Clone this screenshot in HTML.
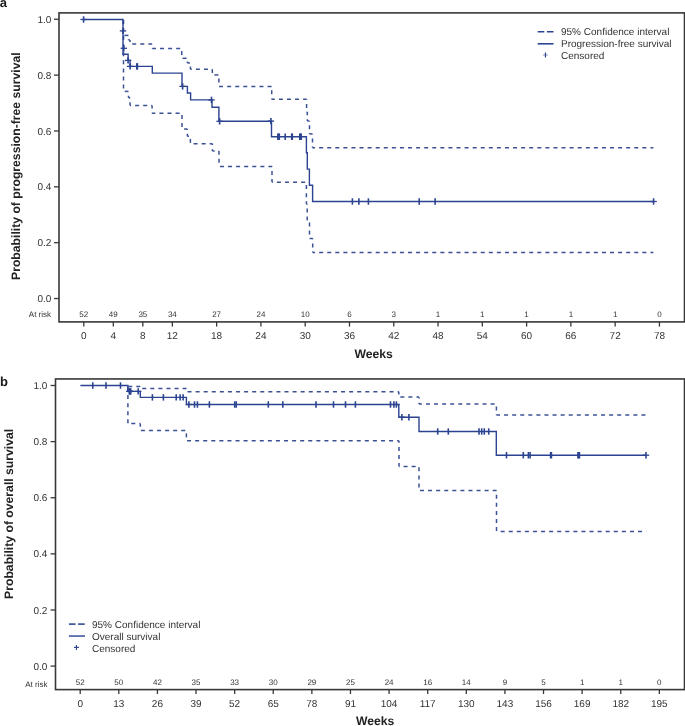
<!DOCTYPE html>
<html><head><meta charset="utf-8"><style>
html,body{margin:0;padding:0;background:#fff;}
svg{display:block;font-family:"Liberation Sans", sans-serif;text-rendering:geometricPrecision;will-change:transform;}
</style></head><body>
<svg width="685" height="726" viewBox="0 0 685 726">
<rect width="685" height="726" fill="#fff"/>
<text x="-0.2" y="7" font-size="13" font-weight="bold" fill="#1a1a1a">a</text>
<rect x="59.0" y="12.9" width="625.5" height="309.0" fill="none" stroke="#383838" stroke-width="1.6"/>
<line x1="54" y1="298.55" x2="59.0" y2="298.55" stroke="#383838" stroke-width="1.3"/>
<text x="51.3" y="302.15" font-size="10" text-anchor="end" fill="#333333">0.0</text>
<line x1="54" y1="242.69" x2="59.0" y2="242.69" stroke="#383838" stroke-width="1.3"/>
<text x="51.3" y="246.29" font-size="10" text-anchor="end" fill="#333333">0.2</text>
<line x1="54" y1="186.83" x2="59.0" y2="186.83" stroke="#383838" stroke-width="1.3"/>
<text x="51.3" y="190.43" font-size="10" text-anchor="end" fill="#333333">0.4</text>
<line x1="54" y1="130.97" x2="59.0" y2="130.97" stroke="#383838" stroke-width="1.3"/>
<text x="51.3" y="134.57" font-size="10" text-anchor="end" fill="#333333">0.6</text>
<line x1="54" y1="75.11" x2="59.0" y2="75.11" stroke="#383838" stroke-width="1.3"/>
<text x="51.3" y="78.71" font-size="10" text-anchor="end" fill="#333333">0.8</text>
<line x1="54" y1="19.25" x2="59.0" y2="19.25" stroke="#383838" stroke-width="1.3"/>
<text x="51.3" y="22.85" font-size="10" text-anchor="end" fill="#333333">1.0</text>
<line x1="83.80" y1="321.9" x2="83.80" y2="326.6" stroke="#383838" stroke-width="1.3"/>
<text x="83.80" y="339" font-size="10" text-anchor="middle" fill="#333333">0</text>
<text x="83.80" y="316.9" font-size="8" text-anchor="middle" fill="#333333">52</text>
<line x1="113.32" y1="321.9" x2="113.32" y2="326.6" stroke="#383838" stroke-width="1.3"/>
<text x="113.32" y="339" font-size="10" text-anchor="middle" fill="#333333">4</text>
<text x="113.32" y="316.9" font-size="8" text-anchor="middle" fill="#333333">49</text>
<line x1="142.84" y1="321.9" x2="142.84" y2="326.6" stroke="#383838" stroke-width="1.3"/>
<text x="142.84" y="339" font-size="10" text-anchor="middle" fill="#333333">8</text>
<text x="142.84" y="316.9" font-size="8" text-anchor="middle" fill="#333333">35</text>
<line x1="172.36" y1="321.9" x2="172.36" y2="326.6" stroke="#383838" stroke-width="1.3"/>
<text x="172.36" y="339" font-size="10" text-anchor="middle" fill="#333333">12</text>
<text x="172.36" y="316.9" font-size="8" text-anchor="middle" fill="#333333">34</text>
<line x1="216.64" y1="321.9" x2="216.64" y2="326.6" stroke="#383838" stroke-width="1.3"/>
<text x="216.64" y="339" font-size="10" text-anchor="middle" fill="#333333">18</text>
<text x="216.64" y="316.9" font-size="8" text-anchor="middle" fill="#333333">27</text>
<line x1="260.92" y1="321.9" x2="260.92" y2="326.6" stroke="#383838" stroke-width="1.3"/>
<text x="260.92" y="339" font-size="10" text-anchor="middle" fill="#333333">24</text>
<text x="260.92" y="316.9" font-size="8" text-anchor="middle" fill="#333333">24</text>
<line x1="305.20" y1="321.9" x2="305.20" y2="326.6" stroke="#383838" stroke-width="1.3"/>
<text x="305.20" y="339" font-size="10" text-anchor="middle" fill="#333333">30</text>
<text x="305.20" y="316.9" font-size="8" text-anchor="middle" fill="#333333">10</text>
<line x1="349.48" y1="321.9" x2="349.48" y2="326.6" stroke="#383838" stroke-width="1.3"/>
<text x="349.48" y="339" font-size="10" text-anchor="middle" fill="#333333">36</text>
<text x="349.48" y="316.9" font-size="8" text-anchor="middle" fill="#333333">6</text>
<line x1="393.76" y1="321.9" x2="393.76" y2="326.6" stroke="#383838" stroke-width="1.3"/>
<text x="393.76" y="339" font-size="10" text-anchor="middle" fill="#333333">42</text>
<text x="393.76" y="316.9" font-size="8" text-anchor="middle" fill="#333333">3</text>
<line x1="438.04" y1="321.9" x2="438.04" y2="326.6" stroke="#383838" stroke-width="1.3"/>
<text x="438.04" y="339" font-size="10" text-anchor="middle" fill="#333333">48</text>
<text x="438.04" y="316.9" font-size="8" text-anchor="middle" fill="#333333">1</text>
<line x1="482.32" y1="321.9" x2="482.32" y2="326.6" stroke="#383838" stroke-width="1.3"/>
<text x="482.32" y="339" font-size="10" text-anchor="middle" fill="#333333">54</text>
<text x="482.32" y="316.9" font-size="8" text-anchor="middle" fill="#333333">1</text>
<line x1="526.60" y1="321.9" x2="526.60" y2="326.6" stroke="#383838" stroke-width="1.3"/>
<text x="526.60" y="339" font-size="10" text-anchor="middle" fill="#333333">60</text>
<text x="526.60" y="316.9" font-size="8" text-anchor="middle" fill="#333333">1</text>
<line x1="570.88" y1="321.9" x2="570.88" y2="326.6" stroke="#383838" stroke-width="1.3"/>
<text x="570.88" y="339" font-size="10" text-anchor="middle" fill="#333333">66</text>
<text x="570.88" y="316.9" font-size="8" text-anchor="middle" fill="#333333">1</text>
<line x1="615.16" y1="321.9" x2="615.16" y2="326.6" stroke="#383838" stroke-width="1.3"/>
<text x="615.16" y="339" font-size="10" text-anchor="middle" fill="#333333">72</text>
<text x="615.16" y="316.9" font-size="8" text-anchor="middle" fill="#333333">1</text>
<line x1="659.44" y1="321.9" x2="659.44" y2="326.6" stroke="#383838" stroke-width="1.3"/>
<text x="659.44" y="339" font-size="10" text-anchor="middle" fill="#333333">78</text>
<text x="659.44" y="316.9" font-size="8" text-anchor="middle" fill="#333333">0</text>
<text x="28.8" y="316.9" font-size="8" fill="#333333">At risk</text>
<text x="373.6" y="357.7" font-size="12.2" font-weight="bold" text-anchor="middle" fill="#222">Weeks</text>
<text transform="translate(20.3,166.2) rotate(-90)" font-size="12.2" font-weight="bold" text-anchor="middle" fill="#222">Probability of progression-free survival</text>
<path d="M537.7,31.8H553.5" stroke="#2b4390" stroke-width="1.6" stroke-dasharray="6.6,2.6"/>
<path d="M537.7,43.8H553.5" stroke="#2b4390" stroke-width="1.6"/>
<path d="M543.0,55.0H547.9" stroke="#7f8fc0" stroke-width="0.9"/><path d="M545.45,52.5V57.5" stroke="#2b4390" stroke-width="1.2"/>
<text x="561" y="35.4" font-size="10" fill="#333333">95% Confidence interval</text>
<text x="561" y="47.4" font-size="10" fill="#333333">Progression-free survival</text>
<text x="561" y="59.4" font-size="10" fill="#333333">Censored</text>
<path d="M122.80,19.50L123.30,19.50" stroke="#3b5196" stroke-width="1.5" fill="none" stroke-dasharray="4.0,4.08" stroke-dashoffset="6.74"/>
<path d="M123.30,19.50L123.30,35.40" stroke="#3b5196" stroke-width="1.5" fill="none" stroke-dasharray="4.0,4.08" stroke-dashoffset="7.24"/>
<path d="M123.30,35.40L128.50,35.40" stroke="#3b5196" stroke-width="1.5" fill="none" stroke-dasharray="4.0,4.08" stroke-dashoffset="6.98"/>
<path d="M128.50,35.40L128.50,40.00" stroke="#3b5196" stroke-width="1.5" fill="none" stroke-dasharray="4.0,4.08" stroke-dashoffset="4.10"/>
<path d="M128.50,40.00L130.00,40.00" stroke="#3b5196" stroke-width="1.5" fill="none" stroke-dasharray="4.0,4.08" stroke-dashoffset="0.62"/>
<path d="M130.00,40.00L130.00,43.90" stroke="#3b5196" stroke-width="1.5" fill="none" stroke-dasharray="4.0,4.08" stroke-dashoffset="2.12"/>
<path d="M130.00,43.90L152.20,43.90" stroke="#3b5196" stroke-width="1.5" fill="none" stroke-dasharray="4.0,4.08" stroke-dashoffset="5.86"/>
<path d="M152.20,43.90L152.20,48.50" stroke="#3b5196" stroke-width="1.5" fill="none" stroke-dasharray="4.0,4.08" stroke-dashoffset="3.82"/>
<path d="M152.20,48.50L181.70,48.50" stroke="#3b5196" stroke-width="1.5" fill="none" stroke-dasharray="4.0,4.08" stroke-dashoffset="0.26"/>
<path d="M181.70,48.50L181.70,58.30" stroke="#3b5196" stroke-width="1.5" fill="none" stroke-dasharray="4.0,4.08" stroke-dashoffset="5.52"/>
<path d="M181.70,58.30L187.40,58.30" stroke="#3b5196" stroke-width="1.5" fill="none" stroke-dasharray="4.0,4.08" stroke-dashoffset="7.24"/>
<path d="M187.40,58.30L187.40,63.00" stroke="#3b5196" stroke-width="1.5" fill="none" stroke-dasharray="4.0,4.08" stroke-dashoffset="4.86"/>
<path d="M187.40,63.00L190.40,63.00" stroke="#3b5196" stroke-width="1.5" fill="none" stroke-dasharray="4.0,4.08" stroke-dashoffset="1.48"/>
<path d="M190.40,63.00L190.40,69.20" stroke="#3b5196" stroke-width="1.5" fill="none" stroke-dasharray="4.0,4.08" stroke-dashoffset="4.48"/>
<path d="M190.40,69.20L212.30,69.20" stroke="#3b5196" stroke-width="1.5" fill="none" stroke-dasharray="4.0,4.08" stroke-dashoffset="2.60"/>
<path d="M212.30,69.20L212.30,74.90" stroke="#3b5196" stroke-width="1.5" fill="none" stroke-dasharray="4.0,4.08" stroke-dashoffset="0.26"/>
<path d="M212.30,74.90L218.90,74.90" stroke="#3b5196" stroke-width="1.5" fill="none" stroke-dasharray="4.0,4.08" stroke-dashoffset="5.96"/>
<path d="M218.90,74.90L218.90,86.40" stroke="#3b5196" stroke-width="1.5" fill="none" stroke-dasharray="4.0,4.08" stroke-dashoffset="4.48"/>
<path d="M218.90,86.40L271.70,86.40" stroke="#3b5196" stroke-width="1.5" fill="none" stroke-dasharray="4.0,4.08" stroke-dashoffset="7.92"/>
<path d="M271.70,86.40L271.70,99.30" stroke="#3b5196" stroke-width="1.5" fill="none" stroke-dasharray="4.0,4.08" stroke-dashoffset="4.16"/>
<path d="M271.70,99.30L306.60,99.30" stroke="#3b5196" stroke-width="1.5" fill="none" stroke-dasharray="4.0,4.08" stroke-dashoffset="0.90"/>
<path d="M306.60,99.30L306.60,112.00" stroke="#3b5196" stroke-width="1.5" fill="none" stroke-dasharray="4.0,4.08" stroke-dashoffset="3.48"/>
<path d="M306.60,112.00L307.30,112.00" stroke="#3b5196" stroke-width="1.5" fill="none" stroke-dasharray="4.0,4.08" stroke-dashoffset="0.02"/>
<path d="M307.30,112.00L307.30,121.00" stroke="#3b5196" stroke-width="1.5" fill="none" stroke-dasharray="4.0,4.08" stroke-dashoffset="0.72"/>
<path d="M307.30,121.00L309.50,121.00" stroke="#3b5196" stroke-width="1.5" fill="none" stroke-dasharray="4.0,4.08" stroke-dashoffset="1.64"/>
<path d="M309.50,121.00L309.50,133.90" stroke="#3b5196" stroke-width="1.5" fill="none" stroke-dasharray="4.0,4.08" stroke-dashoffset="3.84"/>
<path d="M309.50,133.90L312.50,133.90" stroke="#3b5196" stroke-width="1.5" fill="none" stroke-dasharray="4.0,4.08" stroke-dashoffset="0.58"/>
<path d="M312.50,133.90L312.50,147.70" stroke="#3b5196" stroke-width="1.5" fill="none" stroke-dasharray="4.0,4.08" stroke-dashoffset="3.58"/>
<path d="M312.50,147.70L653.40,147.70" stroke="#3b5196" stroke-width="1.5" fill="none" stroke-dasharray="4.0,4.08" stroke-dashoffset="1.44"/>
<path d="M122.80,19.50L123.50,19.50" stroke="#3b5196" stroke-width="1.5" fill="none" stroke-dasharray="4.0,4.08" stroke-dashoffset="6.98"/>
<path d="M123.50,19.50L123.50,91.40" stroke="#3b5196" stroke-width="1.5" fill="none" stroke-dasharray="4.0,4.08" stroke-dashoffset="7.68"/>
<path d="M123.50,91.40L128.50,91.40" stroke="#3b5196" stroke-width="1.5" fill="none" stroke-dasharray="4.0,4.08" stroke-dashoffset="6.86"/>
<path d="M128.50,91.40L128.50,97.70" stroke="#3b5196" stroke-width="1.5" fill="none" stroke-dasharray="4.0,4.08" stroke-dashoffset="3.78"/>
<path d="M128.50,97.70L130.00,97.70" stroke="#3b5196" stroke-width="1.5" fill="none" stroke-dasharray="4.0,4.08" stroke-dashoffset="2.00"/>
<path d="M130.00,97.70L130.00,105.40" stroke="#3b5196" stroke-width="1.5" fill="none" stroke-dasharray="4.0,4.08" stroke-dashoffset="3.50"/>
<path d="M130.00,105.40L152.10,105.40" stroke="#3b5196" stroke-width="1.5" fill="none" stroke-dasharray="4.0,4.08" stroke-dashoffset="2.96"/>
<path d="M152.10,105.40L152.10,113.30" stroke="#3b5196" stroke-width="1.5" fill="none" stroke-dasharray="4.0,4.08" stroke-dashoffset="0.82"/>
<path d="M152.10,113.30L182.00,113.30" stroke="#3b5196" stroke-width="1.5" fill="none" stroke-dasharray="4.0,4.08" stroke-dashoffset="0.76"/>
<path d="M182.00,113.30L182.00,129.00" stroke="#3b5196" stroke-width="1.5" fill="none" stroke-dasharray="4.0,4.08" stroke-dashoffset="6.42"/>
<path d="M182.00,129.00L187.40,129.00" stroke="#3b5196" stroke-width="1.5" fill="none" stroke-dasharray="4.0,4.08" stroke-dashoffset="5.96"/>
<path d="M187.40,129.00L187.40,136.20" stroke="#3b5196" stroke-width="1.5" fill="none" stroke-dasharray="4.0,4.08" stroke-dashoffset="3.28"/>
<path d="M187.40,136.20L190.40,136.20" stroke="#3b5196" stroke-width="1.5" fill="none" stroke-dasharray="4.0,4.08" stroke-dashoffset="2.40"/>
<path d="M190.40,136.20L190.40,143.80" stroke="#3b5196" stroke-width="1.5" fill="none" stroke-dasharray="4.0,4.08" stroke-dashoffset="5.40"/>
<path d="M190.40,143.80L212.40,143.80" stroke="#3b5196" stroke-width="1.5" fill="none" stroke-dasharray="4.0,4.08" stroke-dashoffset="4.92"/>
<path d="M212.40,143.80L212.40,151.00" stroke="#3b5196" stroke-width="1.5" fill="none" stroke-dasharray="4.0,4.08" stroke-dashoffset="2.68"/>
<path d="M212.40,151.00L219.00,151.00" stroke="#3b5196" stroke-width="1.5" fill="none" stroke-dasharray="4.0,4.08" stroke-dashoffset="1.80"/>
<path d="M219.00,151.00L219.00,166.50" stroke="#3b5196" stroke-width="1.5" fill="none" stroke-dasharray="4.0,4.08" stroke-dashoffset="0.32"/>
<path d="M219.00,166.50L272.00,166.50" stroke="#3b5196" stroke-width="1.5" fill="none" stroke-dasharray="4.0,4.08" stroke-dashoffset="7.12"/>
<path d="M272.00,166.50L272.00,182.30" stroke="#3b5196" stroke-width="1.5" fill="none" stroke-dasharray="4.0,4.08" stroke-dashoffset="3.56"/>
<path d="M272.00,182.30L306.40,182.30" stroke="#3b5196" stroke-width="1.5" fill="none" stroke-dasharray="4.0,4.08" stroke-dashoffset="3.20"/>
<path d="M306.40,182.30L306.40,203.90" stroke="#3b5196" stroke-width="1.5" fill="none" stroke-dasharray="4.0,4.08" stroke-dashoffset="5.28"/>
<path d="M306.40,203.90L307.20,203.90" stroke="#3b5196" stroke-width="1.5" fill="none" stroke-dasharray="4.0,4.08" stroke-dashoffset="2.64"/>
<path d="M307.20,203.90L307.20,220.30" stroke="#3b5196" stroke-width="1.5" fill="none" stroke-dasharray="4.0,4.08" stroke-dashoffset="3.44"/>
<path d="M307.20,220.30L309.50,220.30" stroke="#3b5196" stroke-width="1.5" fill="none" stroke-dasharray="4.0,4.08" stroke-dashoffset="3.68"/>
<path d="M309.50,220.30L309.50,238.50" stroke="#3b5196" stroke-width="1.5" fill="none" stroke-dasharray="4.0,4.08" stroke-dashoffset="5.98"/>
<path d="M309.50,238.50L312.70,238.50" stroke="#3b5196" stroke-width="1.5" fill="none" stroke-dasharray="4.0,4.08" stroke-dashoffset="8.02"/>
<path d="M312.70,238.50L312.70,252.50" stroke="#3b5196" stroke-width="1.5" fill="none" stroke-dasharray="4.0,4.08" stroke-dashoffset="3.14"/>
<path d="M312.70,252.50L653.40,252.50" stroke="#3b5196" stroke-width="1.5" fill="none" stroke-dasharray="4.0,4.08" stroke-dashoffset="1.64"/>
<path d="M83.60,19.50 H123.00 V54.20 H128.10 V60.40 H130.10 V66.40 H152.30 V73.10 H182.00 V86.40 H187.40 V93.00 H190.60 V99.90 H212.00 V107.20 H218.90 V121.20 H271.50 V136.70 H306.40 V152.80 H307.30 V169.10 H309.40 V185.30 H312.60 V201.50 H653.60" stroke="#2b4390" stroke-width="1.4" fill="none"/>
<path d="M80.40,19.50H86.80" stroke="#2b4390" stroke-width="1.3" fill="none"/><path d="M83.60,16.30V22.70" stroke="#2b4390" stroke-width="1.6" fill="none"/>
<path d="M119.80,30.90H126.20" stroke="#2b4390" stroke-width="1.3" fill="none"/><path d="M123.00,27.70V34.10" stroke="#2b4390" stroke-width="1.6" fill="none"/>
<path d="M120.60,48.30H127.00" stroke="#2b4390" stroke-width="1.3" fill="none"/><path d="M123.80,45.10V51.50" stroke="#2b4390" stroke-width="1.6" fill="none"/>
<path d="M124.90,60.40H131.30" stroke="#2b4390" stroke-width="1.3" fill="none"/><path d="M128.10,57.20V63.60" stroke="#2b4390" stroke-width="1.6" fill="none"/>
<path d="M126.90,66.40H133.30" stroke="#2b4390" stroke-width="1.3" fill="none"/><path d="M130.10,63.20V69.60" stroke="#2b4390" stroke-width="1.6" fill="none"/>
<path d="M136.80,63.20V69.60" stroke="#2b4390" stroke-width="1.6" fill="none"/>
<path d="M137.40,63.20V69.60" stroke="#2b4390" stroke-width="1.6" fill="none"/>
<path d="M179.40,86.40H185.80" stroke="#2b4390" stroke-width="1.3" fill="none"/><path d="M182.60,83.20V89.60" stroke="#2b4390" stroke-width="1.6" fill="none"/>
<path d="M208.30,99.90H214.70" stroke="#2b4390" stroke-width="1.3" fill="none"/><path d="M211.50,96.70V103.10" stroke="#2b4390" stroke-width="1.6" fill="none"/>
<path d="M216.40,121.30H222.80" stroke="#2b4390" stroke-width="1.3" fill="none"/><path d="M219.60,118.10V124.50" stroke="#2b4390" stroke-width="1.6" fill="none"/>
<path d="M267.70,121.10H274.10" stroke="#2b4390" stroke-width="1.3" fill="none"/><path d="M270.90,117.90V124.30" stroke="#2b4390" stroke-width="1.6" fill="none"/>
<path d="M277.90,133.50V139.90" stroke="#2b4390" stroke-width="1.6" fill="none"/>
<path d="M278.60,133.50V139.90" stroke="#2b4390" stroke-width="1.6" fill="none"/>
<path d="M279.30,133.50V139.90" stroke="#2b4390" stroke-width="1.6" fill="none"/>
<path d="M285.20,133.50V139.90" stroke="#2b4390" stroke-width="1.6" fill="none"/>
<path d="M291.70,133.50V139.90" stroke="#2b4390" stroke-width="1.6" fill="none"/>
<path d="M292.30,133.50V139.90" stroke="#2b4390" stroke-width="1.6" fill="none"/>
<path d="M299.80,133.50V139.90" stroke="#2b4390" stroke-width="1.6" fill="none"/>
<path d="M300.50,133.50V139.90" stroke="#2b4390" stroke-width="1.6" fill="none"/>
<path d="M301.20,133.50V139.90" stroke="#2b4390" stroke-width="1.6" fill="none"/>
<path d="M352.40,198.30V204.70" stroke="#2b4390" stroke-width="1.6" fill="none"/>
<path d="M358.90,198.30V204.70" stroke="#2b4390" stroke-width="1.6" fill="none"/>
<path d="M368.40,198.30V204.70" stroke="#2b4390" stroke-width="1.6" fill="none"/>
<path d="M419.20,198.30V204.70" stroke="#2b4390" stroke-width="1.6" fill="none"/>
<path d="M435.10,198.30V204.70" stroke="#2b4390" stroke-width="1.6" fill="none"/>
<path d="M650.40,201.50H656.80" stroke="#2b4390" stroke-width="1.3" fill="none"/><path d="M653.60,198.30V204.70" stroke="#2b4390" stroke-width="1.6" fill="none"/>
<text x="0.1" y="385.6" font-size="13" font-weight="bold" fill="#1a1a1a">b</text>
<rect x="55.5" y="378.95" width="629.0" height="310.65000000000003" fill="none" stroke="#383838" stroke-width="1.6"/>
<line x1="50.6" y1="666.10" x2="55.5" y2="666.10" stroke="#383838" stroke-width="1.3"/>
<text x="47.4" y="669.70" font-size="10" text-anchor="end" fill="#333333">0.0</text>
<line x1="50.6" y1="609.98" x2="55.5" y2="609.98" stroke="#383838" stroke-width="1.3"/>
<text x="47.4" y="613.58" font-size="10" text-anchor="end" fill="#333333">0.2</text>
<line x1="50.6" y1="553.86" x2="55.5" y2="553.86" stroke="#383838" stroke-width="1.3"/>
<text x="47.4" y="557.46" font-size="10" text-anchor="end" fill="#333333">0.4</text>
<line x1="50.6" y1="497.74" x2="55.5" y2="497.74" stroke="#383838" stroke-width="1.3"/>
<text x="47.4" y="501.34" font-size="10" text-anchor="end" fill="#333333">0.6</text>
<line x1="50.6" y1="441.62" x2="55.5" y2="441.62" stroke="#383838" stroke-width="1.3"/>
<text x="47.4" y="445.22" font-size="10" text-anchor="end" fill="#333333">0.8</text>
<line x1="50.6" y1="385.50" x2="55.5" y2="385.50" stroke="#383838" stroke-width="1.3"/>
<text x="47.4" y="389.10" font-size="10" text-anchor="end" fill="#333333">1.0</text>
<line x1="80.20" y1="689.6" x2="80.20" y2="694" stroke="#383838" stroke-width="1.3"/>
<text x="80.20" y="707.3" font-size="10" text-anchor="middle" fill="#333333">0</text>
<text x="80.20" y="685.4" font-size="8" text-anchor="middle" fill="#333333">52</text>
<line x1="118.81" y1="689.6" x2="118.81" y2="694" stroke="#383838" stroke-width="1.3"/>
<text x="118.81" y="707.3" font-size="10" text-anchor="middle" fill="#333333">13</text>
<text x="118.81" y="685.4" font-size="8" text-anchor="middle" fill="#333333">50</text>
<line x1="157.42" y1="689.6" x2="157.42" y2="694" stroke="#383838" stroke-width="1.3"/>
<text x="157.42" y="707.3" font-size="10" text-anchor="middle" fill="#333333">26</text>
<text x="157.42" y="685.4" font-size="8" text-anchor="middle" fill="#333333">42</text>
<line x1="196.03" y1="689.6" x2="196.03" y2="694" stroke="#383838" stroke-width="1.3"/>
<text x="196.03" y="707.3" font-size="10" text-anchor="middle" fill="#333333">39</text>
<text x="196.03" y="685.4" font-size="8" text-anchor="middle" fill="#333333">35</text>
<line x1="234.64" y1="689.6" x2="234.64" y2="694" stroke="#383838" stroke-width="1.3"/>
<text x="234.64" y="707.3" font-size="10" text-anchor="middle" fill="#333333">52</text>
<text x="234.64" y="685.4" font-size="8" text-anchor="middle" fill="#333333">33</text>
<line x1="273.25" y1="689.6" x2="273.25" y2="694" stroke="#383838" stroke-width="1.3"/>
<text x="273.25" y="707.3" font-size="10" text-anchor="middle" fill="#333333">65</text>
<text x="273.25" y="685.4" font-size="8" text-anchor="middle" fill="#333333">30</text>
<line x1="311.86" y1="689.6" x2="311.86" y2="694" stroke="#383838" stroke-width="1.3"/>
<text x="311.86" y="707.3" font-size="10" text-anchor="middle" fill="#333333">78</text>
<text x="311.86" y="685.4" font-size="8" text-anchor="middle" fill="#333333">29</text>
<line x1="350.47" y1="689.6" x2="350.47" y2="694" stroke="#383838" stroke-width="1.3"/>
<text x="350.47" y="707.3" font-size="10" text-anchor="middle" fill="#333333">91</text>
<text x="350.47" y="685.4" font-size="8" text-anchor="middle" fill="#333333">25</text>
<line x1="389.08" y1="689.6" x2="389.08" y2="694" stroke="#383838" stroke-width="1.3"/>
<text x="389.08" y="707.3" font-size="10" text-anchor="middle" fill="#333333">104</text>
<text x="389.08" y="685.4" font-size="8" text-anchor="middle" fill="#333333">24</text>
<line x1="427.69" y1="689.6" x2="427.69" y2="694" stroke="#383838" stroke-width="1.3"/>
<text x="427.69" y="707.3" font-size="10" text-anchor="middle" fill="#333333">117</text>
<text x="427.69" y="685.4" font-size="8" text-anchor="middle" fill="#333333">16</text>
<line x1="466.30" y1="689.6" x2="466.30" y2="694" stroke="#383838" stroke-width="1.3"/>
<text x="466.30" y="707.3" font-size="10" text-anchor="middle" fill="#333333">130</text>
<text x="466.30" y="685.4" font-size="8" text-anchor="middle" fill="#333333">14</text>
<line x1="504.91" y1="689.6" x2="504.91" y2="694" stroke="#383838" stroke-width="1.3"/>
<text x="504.91" y="707.3" font-size="10" text-anchor="middle" fill="#333333">143</text>
<text x="504.91" y="685.4" font-size="8" text-anchor="middle" fill="#333333">9</text>
<line x1="543.52" y1="689.6" x2="543.52" y2="694" stroke="#383838" stroke-width="1.3"/>
<text x="543.52" y="707.3" font-size="10" text-anchor="middle" fill="#333333">156</text>
<text x="543.52" y="685.4" font-size="8" text-anchor="middle" fill="#333333">5</text>
<line x1="582.13" y1="689.6" x2="582.13" y2="694" stroke="#383838" stroke-width="1.3"/>
<text x="582.13" y="707.3" font-size="10" text-anchor="middle" fill="#333333">169</text>
<text x="582.13" y="685.4" font-size="8" text-anchor="middle" fill="#333333">1</text>
<line x1="620.74" y1="689.6" x2="620.74" y2="694" stroke="#383838" stroke-width="1.3"/>
<text x="620.74" y="707.3" font-size="10" text-anchor="middle" fill="#333333">182</text>
<text x="620.74" y="685.4" font-size="8" text-anchor="middle" fill="#333333">1</text>
<line x1="659.35" y1="689.6" x2="659.35" y2="694" stroke="#383838" stroke-width="1.3"/>
<text x="659.35" y="707.3" font-size="10" text-anchor="middle" fill="#333333">195</text>
<text x="659.35" y="685.4" font-size="8" text-anchor="middle" fill="#333333">0</text>
<text x="25.2" y="687.2" font-size="8" fill="#333333">At risk</text>
<text x="375.2" y="725" font-size="12.2" font-weight="bold" text-anchor="middle" fill="#222">Weeks</text>
<text transform="translate(13.1,513.9) rotate(-90)" font-size="12.2" font-weight="bold" text-anchor="middle" fill="#222">Probability of overall survival</text>
<path d="M68.9,624.1H85.0" stroke="#42589b" stroke-width="1.6" stroke-dasharray="6.6,2.6"/>
<path d="M68.9,636.05H85.0" stroke="#42589b" stroke-width="1.6"/>
<path d="M74.0,647.4H78.9M76.45,644.9V649.9" stroke="#34498f" stroke-width="1.1"/>
<text x="92" y="627.8" font-size="10" fill="#333333">95% Confidence interval</text>
<text x="92" y="639.8" font-size="10" fill="#333333">Overall survival</text>
<text x="92" y="651.6" font-size="10" fill="#333333">Censored</text>
<path d="M127.90,385.50L127.90,386.60" stroke="#3b5196" stroke-width="1.5" fill="none" stroke-dasharray="4.0,4.08" stroke-dashoffset="6.30"/>
<path d="M127.90,386.60L140.30,386.60" stroke="#3b5196" stroke-width="1.5" fill="none" stroke-dasharray="4.0,4.08" stroke-dashoffset="7.76"/>
<path d="M140.30,386.60L140.30,388.50" stroke="#3b5196" stroke-width="1.5" fill="none" stroke-dasharray="4.0,4.08" stroke-dashoffset="4.00"/>
<path d="M140.30,388.50L186.40,388.50" stroke="#3b5196" stroke-width="1.5" fill="none" stroke-dasharray="4.0,4.08" stroke-dashoffset="6.14"/>
<path d="M186.40,388.50L186.40,391.70" stroke="#3b5196" stroke-width="1.5" fill="none" stroke-dasharray="4.0,4.08" stroke-dashoffset="3.76"/>
<path d="M186.40,391.70L398.80,391.70" stroke="#3b5196" stroke-width="1.5" fill="none" stroke-dasharray="4.0,4.08" stroke-dashoffset="6.94"/>
<path d="M398.80,391.70L398.80,397.10" stroke="#3b5196" stroke-width="1.5" fill="none" stroke-dasharray="4.0,4.08" stroke-dashoffset="1.18"/>
<path d="M398.80,397.10L419.00,397.10" stroke="#3b5196" stroke-width="1.5" fill="none" stroke-dasharray="4.0,4.08" stroke-dashoffset="6.58"/>
<path d="M419.00,397.10L419.00,404.10" stroke="#3b5196" stroke-width="1.5" fill="none" stroke-dasharray="4.0,4.08" stroke-dashoffset="2.54"/>
<path d="M419.00,404.10L496.40,404.10" stroke="#3b5196" stroke-width="1.5" fill="none" stroke-dasharray="4.0,4.08" stroke-dashoffset="1.12"/>
<path d="M496.40,404.10L496.40,415.10" stroke="#3b5196" stroke-width="1.5" fill="none" stroke-dasharray="4.0,4.08" stroke-dashoffset="5.80"/>
<path d="M496.40,415.10L645.70,415.10" stroke="#3b5196" stroke-width="1.5" fill="none" stroke-dasharray="4.0,4.08" stroke-dashoffset="0.40"/>
<path d="M127.90,385.50L127.90,423.60" stroke="#3b5196" stroke-width="1.5" fill="none" stroke-dasharray="4.0,4.08" stroke-dashoffset="6.54"/>
<path d="M127.90,423.60L140.30,423.60" stroke="#3b5196" stroke-width="1.5" fill="none" stroke-dasharray="4.0,4.08" stroke-dashoffset="4.68"/>
<path d="M140.30,423.60L140.30,430.40" stroke="#3b5196" stroke-width="1.5" fill="none" stroke-dasharray="4.0,4.08" stroke-dashoffset="0.92"/>
<path d="M140.30,430.40L186.40,430.40" stroke="#3b5196" stroke-width="1.5" fill="none" stroke-dasharray="4.0,4.08" stroke-dashoffset="7.52"/>
<path d="M186.40,430.40L186.40,440.70" stroke="#3b5196" stroke-width="1.5" fill="none" stroke-dasharray="4.0,4.08" stroke-dashoffset="5.14"/>
<path d="M186.40,440.70L399.00,440.70" stroke="#3b5196" stroke-width="1.5" fill="none" stroke-dasharray="4.0,4.08" stroke-dashoffset="7.42"/>
<path d="M399.00,440.70L399.00,466.60" stroke="#3b5196" stroke-width="1.5" fill="none" stroke-dasharray="4.0,4.08" stroke-dashoffset="1.86"/>
<path d="M399.00,466.60L419.00,466.60" stroke="#3b5196" stroke-width="1.5" fill="none" stroke-dasharray="4.0,4.08" stroke-dashoffset="3.52"/>
<path d="M419.00,466.60L419.00,490.50" stroke="#3b5196" stroke-width="1.5" fill="none" stroke-dasharray="4.0,4.08" stroke-dashoffset="7.36"/>
<path d="M419.00,490.50L496.50,490.50" stroke="#3b5196" stroke-width="1.5" fill="none" stroke-dasharray="4.0,4.08" stroke-dashoffset="7.10"/>
<path d="M496.50,490.50L496.50,531.40" stroke="#3b5196" stroke-width="1.5" fill="none" stroke-dasharray="4.0,4.08" stroke-dashoffset="3.80"/>
<path d="M496.50,531.40L646.30,531.40" stroke="#3b5196" stroke-width="1.5" fill="none" stroke-dasharray="4.0,4.08" stroke-dashoffset="3.92"/>
<path d="M80.40,385.50 H127.90 V391.40 H140.30 V397.40 H186.40 V404.50 H398.80 V417.20 H419.00 V431.50 H496.30 V455.20 H646.00" stroke="#2b4390" stroke-width="1.4" fill="none"/>
<path d="M92.80,382.30V388.70" stroke="#2b4390" stroke-width="1.6" fill="none"/>
<path d="M106.00,382.30V388.70" stroke="#2b4390" stroke-width="1.6" fill="none"/>
<path d="M120.50,382.30V388.70" stroke="#2b4390" stroke-width="1.6" fill="none"/>
<path d="M126.10,391.40H132.50" stroke="#2b4390" stroke-width="1.3" fill="none"/><path d="M129.30,388.20V394.60" stroke="#2b4390" stroke-width="1.6" fill="none"/>
<path d="M126.80,391.40H133.20" stroke="#2b4390" stroke-width="1.3" fill="none"/><path d="M130.00,388.20V394.60" stroke="#2b4390" stroke-width="1.6" fill="none"/>
<path d="M127.50,391.40H133.90" stroke="#2b4390" stroke-width="1.3" fill="none"/><path d="M130.70,388.20V394.60" stroke="#2b4390" stroke-width="1.6" fill="none"/>
<path d="M135.00,391.40H141.40" stroke="#2b4390" stroke-width="1.3" fill="none"/><path d="M138.20,388.20V394.60" stroke="#2b4390" stroke-width="1.6" fill="none"/>
<path d="M152.40,394.20V400.60" stroke="#2b4390" stroke-width="1.6" fill="none"/>
<path d="M163.40,394.20V400.60" stroke="#2b4390" stroke-width="1.6" fill="none"/>
<path d="M176.20,394.20V400.60" stroke="#2b4390" stroke-width="1.6" fill="none"/>
<path d="M180.10,394.20V400.60" stroke="#2b4390" stroke-width="1.6" fill="none"/>
<path d="M183.10,394.20V400.60" stroke="#2b4390" stroke-width="1.6" fill="none"/>
<path d="M185.70,404.50H192.10" stroke="#2b4390" stroke-width="1.3" fill="none"/><path d="M188.90,401.30V407.70" stroke="#2b4390" stroke-width="1.6" fill="none"/>
<path d="M194.50,401.30V407.70" stroke="#2b4390" stroke-width="1.6" fill="none"/>
<path d="M197.40,401.30V407.70" stroke="#2b4390" stroke-width="1.6" fill="none"/>
<path d="M209.40,401.30V407.70" stroke="#2b4390" stroke-width="1.6" fill="none"/>
<path d="M234.70,401.30V407.70" stroke="#2b4390" stroke-width="1.6" fill="none"/>
<path d="M236.20,401.30V407.70" stroke="#2b4390" stroke-width="1.6" fill="none"/>
<path d="M268.30,401.30V407.70" stroke="#2b4390" stroke-width="1.6" fill="none"/>
<path d="M282.80,401.30V407.70" stroke="#2b4390" stroke-width="1.6" fill="none"/>
<path d="M316.00,401.30V407.70" stroke="#2b4390" stroke-width="1.6" fill="none"/>
<path d="M333.50,401.30V407.70" stroke="#2b4390" stroke-width="1.6" fill="none"/>
<path d="M345.50,401.30V407.70" stroke="#2b4390" stroke-width="1.6" fill="none"/>
<path d="M355.40,401.30V407.70" stroke="#2b4390" stroke-width="1.6" fill="none"/>
<path d="M390.50,401.30V407.70" stroke="#2b4390" stroke-width="1.6" fill="none"/>
<path d="M393.90,401.30V407.70" stroke="#2b4390" stroke-width="1.6" fill="none"/>
<path d="M393.20,404.50H399.60" stroke="#2b4390" stroke-width="1.3" fill="none"/><path d="M396.40,401.30V407.70" stroke="#2b4390" stroke-width="1.6" fill="none"/>
<path d="M398.70,417.20H405.10" stroke="#2b4390" stroke-width="1.3" fill="none"/><path d="M401.90,414.00V420.40" stroke="#2b4390" stroke-width="1.6" fill="none"/>
<path d="M408.90,414.00V420.40" stroke="#2b4390" stroke-width="1.6" fill="none"/>
<path d="M437.70,428.30V434.70" stroke="#2b4390" stroke-width="1.6" fill="none"/>
<path d="M448.30,428.30V434.70" stroke="#2b4390" stroke-width="1.6" fill="none"/>
<path d="M479.00,428.30V434.70" stroke="#2b4390" stroke-width="1.6" fill="none"/>
<path d="M481.70,428.30V434.70" stroke="#2b4390" stroke-width="1.6" fill="none"/>
<path d="M484.30,428.30V434.70" stroke="#2b4390" stroke-width="1.6" fill="none"/>
<path d="M488.70,428.30V434.70" stroke="#2b4390" stroke-width="1.6" fill="none"/>
<path d="M506.50,452.00V458.40" stroke="#2b4390" stroke-width="1.6" fill="none"/>
<path d="M523.30,452.00V458.40" stroke="#2b4390" stroke-width="1.6" fill="none"/>
<path d="M528.40,452.00V458.40" stroke="#2b4390" stroke-width="1.6" fill="none"/>
<path d="M530.10,452.00V458.40" stroke="#2b4390" stroke-width="1.6" fill="none"/>
<path d="M550.60,452.00V458.40" stroke="#2b4390" stroke-width="1.6" fill="none"/>
<path d="M551.40,452.00V458.40" stroke="#2b4390" stroke-width="1.6" fill="none"/>
<path d="M578.00,452.00V458.40" stroke="#2b4390" stroke-width="1.6" fill="none"/>
<path d="M578.70,452.00V458.40" stroke="#2b4390" stroke-width="1.6" fill="none"/>
<path d="M579.40,452.00V458.40" stroke="#2b4390" stroke-width="1.6" fill="none"/>
<path d="M642.80,455.20H649.20" stroke="#2b4390" stroke-width="1.3" fill="none"/><path d="M646.00,452.00V458.40" stroke="#2b4390" stroke-width="1.6" fill="none"/>
</svg>
</body></html>
